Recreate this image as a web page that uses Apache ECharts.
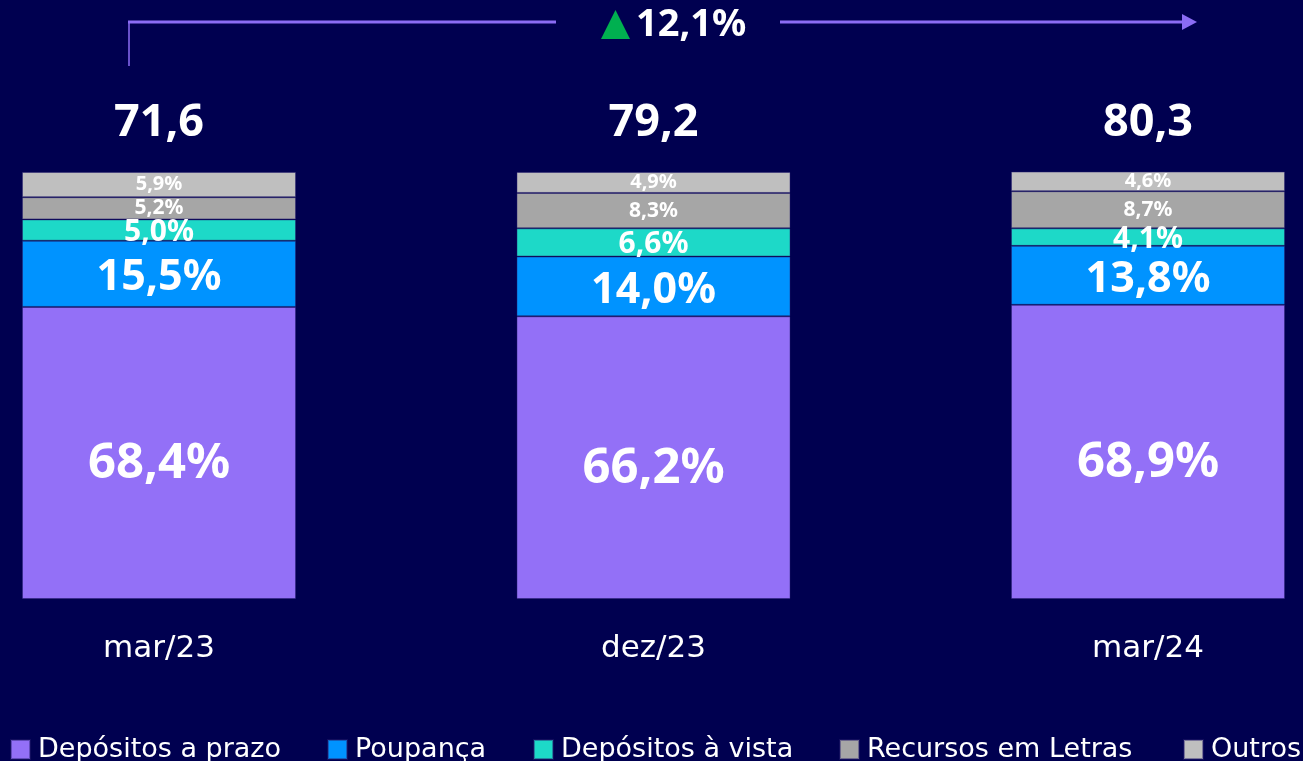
<!DOCTYPE html>
<html>
<head>
<meta charset="utf-8">
<script src="https://cdn.jsdelivr.net/npm/echarts@6/dist/echarts.min.js"></script>
<style>
  html, body { margin: 0; padding: 0; background: #000050; }
  #chart { width: 1303px; height: 761px; }
</style>
</head>
<body>
<div id="chart"></div>
<script>
// Data
const categories = ['mar/23', 'dez/23', 'mar/24'];
const totals = ['71,6', '79,2', '80,3'];
const seriesNames = ['Depósitos a prazo', 'Poupança', 'Depósitos à vista', 'Recursos em Letras', 'Outros'];
const depPrazo = [68.4, 66.2, 68.9];
const poupanca = [15.5, 14.0, 13.8];
const depVista = [5.0, 6.6, 4.1];
const letras = [5.2, 8.3, 8.7];
const outros = [5.9, 4.9, 4.6];
const growthLabel = '12,1%';

const colors = ['#9370F7', '#0093FF', '#1DD9C8', '#A6A6A6', '#BFBFBF'];
const labelSizes = [49, 43, 30, 21, 20];
const labelShift = [11, 4, 2, 0, 0];
const legendLeft = [10, 327, 533, 839, 1183];
const FONT = '"Noto Sans", sans-serif';
const FONT_REG = '"DejaVu Sans", sans-serif';

function pct(v) {
  return v.toFixed(1).replace('.', ',') + '%';
}

const chart = echarts.init(document.getElementById('chart'));
const values = [depPrazo, poupanca, depVista, letras, outros];

const series = seriesNames.map((name, i) => ({
  name: name,
  type: 'bar',
  stack: 'total',
  barWidth: 274,
  clip: false,
  data: values[i],
  itemStyle: { color: colors[i], borderColor: 'rgba(40,30,110,0.45)', borderWidth: 1 },
  label: {
    show: true,
    position: 'inside',
    offset: [0, labelShift[i]],
    color: '#fff',
    fontFamily: FONT,
    fontWeight: 'bold',
    fontSize: labelSizes[i],
    formatter: p => pct(p.value)
  }
}));

chart.setOption({
  backgroundColor: '#000050',
  animation: false,
  grid: { left: 159, right: 155, top: 172, bottom: 162 },
  xAxis: [{
    type: 'category',
    data: categories,
    boundaryGap: false,
    axisLine: { show: false },
    axisTick: { show: false },
    axisLabel: { color: '#fff', fontFamily: FONT_REG, fontSize: 31, margin: 34 }
  }, {
    type: 'category',
    position: 'top',
    data: totals,
    boundaryGap: false,
    axisLine: { show: false },
    axisTick: { show: false },
    axisLabel: { color: '#fff', fontFamily: FONT, fontSize: 45, fontWeight: 'bold', margin: 26 }
  }],
  yAxis: { type: 'value', min: 0, max: 100, show: false },
  legend: seriesNames.map((name, i) => ({
    data: [name],
    left: legendLeft[i],
    top: 736,
    padding: 0,
    icon: 'rect',
    itemWidth: 19,
    itemHeight: 19,
    itemGap: 0,
    textStyle: { color: '#fff', fontFamily: FONT_REG, fontSize: 27, padding: [0, 0, 0, 3] }
  })),
  graphic: [
    { type: 'line', shape: { x1: 129, y1: 22, x2: 129, y2: 66 }, style: { stroke: '#8B6CF5', lineWidth: 1.5 } },
    { type: 'line', shape: { x1: 128, y1: 22, x2: 556, y2: 22 }, style: { stroke: '#8B6CF5', lineWidth: 3 } },
    { type: 'line', shape: { x1: 780, y1: 22, x2: 1186, y2: 22 }, style: { stroke: '#8B6CF5', lineWidth: 3 } },
    { type: 'polygon', shape: { points: [[1182, 14], [1197, 22], [1182, 30]] }, style: { fill: '#8B6CF5' } },
    { type: 'polygon', shape: { points: [[601, 39], [630, 39], [615.5, 10]] }, style: { fill: '#00B050' } },
    {
      type: 'text', left: 636, top: 6,
      style: { text: growthLabel, fill: '#fff', font: 'bold 38px ' + FONT }
    }
  ],
  series: series
});
</script>
</body>
</html>
